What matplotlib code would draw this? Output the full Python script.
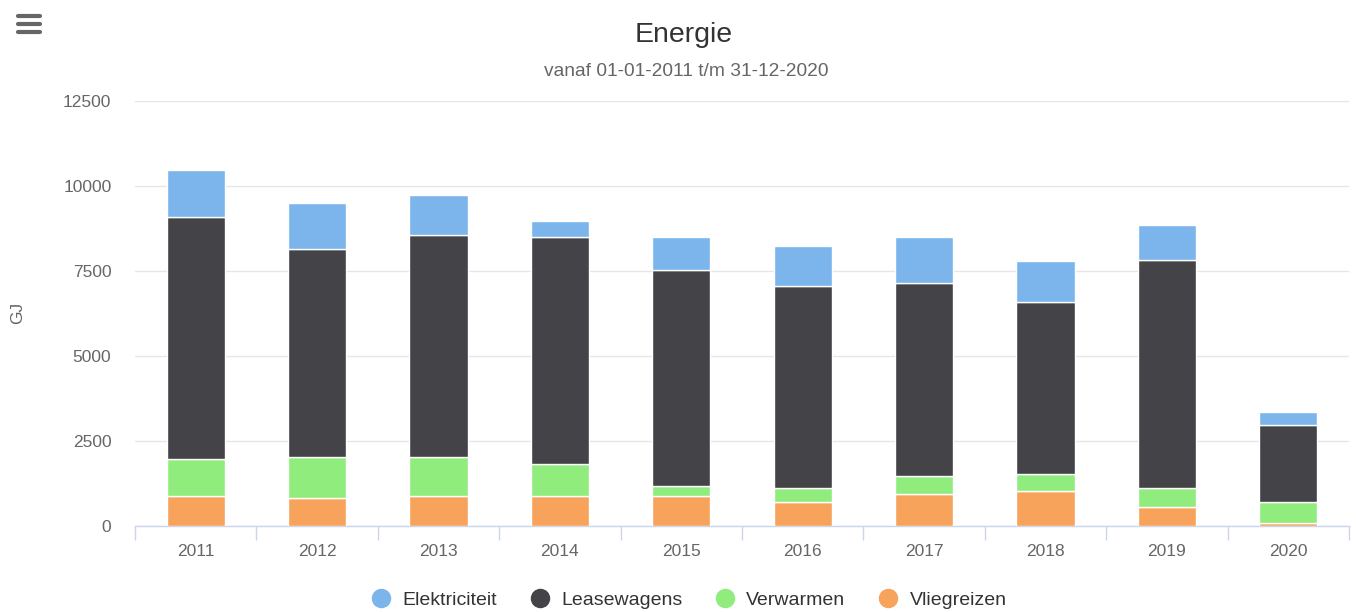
import numpy as np
import matplotlib.pyplot as plt
from matplotlib.lines import Line2D

plt.rcParams['font.family'] = ['Liberation Sans', 'DejaVu Sans']

jaren = ['2011', '2012', '2013', '2014', '2015', '2016', '2017', '2018', '2019', '2020']
vliegreizen = [880, 800, 880, 880, 880, 700, 937, 1025, 554, 74]
verwarmen = [1080, 1210, 1130, 940, 290, 410, 510, 480, 560, 625]
leasewagens = [7117, 6134, 6546, 6684, 6351, 5939, 5702, 5074, 6696, 2274]
elektriciteit = [1402, 1355, 1178, 471, 981, 1169, 1354, 1217, 1031, 368]

series = [
    ('Vliegreizen', vliegreizen, '#f7a35c'),
    ('Verwarmen', verwarmen, '#90ed7d'),
    ('Leasewagens', leasewagens, '#434348'),
    ('Elektriciteit', elektriciteit, '#7cb5ec'),
]

fig = plt.figure(figsize=(13.56, 6.12), dpi=100)
ax = fig.add_axes([135 / 1356, 1 - 525.5 / 612, (1349 - 135) / 1356, (525.5 - 101) / 612])

x = np.arange(len(jaren))
bottom = np.zeros(len(jaren))
for naam, waarden, kleur in series:
    ax.bar(x, waarden, width=0.48, bottom=bottom, color=kleur,
           edgecolor='white', linewidth=1, zorder=3)
    bottom += np.array(waarden)

ax.set_xlim(-0.5, len(jaren) - 0.5)
ax.set_ylim(0, 12500)
ax.set_yticks([0, 2500, 5000, 7500, 10000, 12500])
ax.yaxis.grid(True, color='#e6e6e6', linewidth=1, zorder=0)
ax.set_axisbelow(True)

for s in ['top', 'right', 'left']:
    ax.spines[s].set_visible(False)
ax.spines['bottom'].set_color('#ccd6eb')
ax.spines['bottom'].set_linewidth(1)

ax.set_xticks(x)
ax.set_xticklabels(jaren, fontsize=12.5, color='#666666')
ax.set_xticks(np.arange(-0.5, len(jaren)), minor=True)
ax.tick_params(axis='x', which='major', length=0, pad=13)
ax.tick_params(axis='x', which='minor', length=10, color='#ccd6eb', width=1)
ax.tick_params(axis='y', length=0, labelsize=12.5, labelcolor='#666666', pad=17)

ax.set_ylabel('GJ', fontsize=12.5, color='#666666')
ax.yaxis.set_label_coords((25 - 135) / 1214, 0.5)

fig.text(0.504, 1 - 35 / 612, 'Energie', ha='center', va='center', fontsize=20.5, color='#333333')
fig.text(0.506, 1 - 71 / 612, 'vanaf 01-01-2011 t/m 31-12-2020', ha='center', va='center',
         fontsize=13.8, color='#666666')

# menu-icoon
for yy in [16, 24, 32]:
    fig.add_artist(Line2D([18 / 1356, 40 / 1356], [1 - yy / 612, 1 - yy / 612],
                          color='#666666', linewidth=3, solid_capstyle='round'))

handles = [Line2D([], [], marker='o', linestyle='', markersize=13, color=k)
           for _, _, k in reversed(series)]
labels = [n for n, _, _ in reversed(series)]
fig.legend(handles, labels, loc='center', bbox_to_anchor=(0.508, 1 - 600 / 612), ncol=4,
           frameon=False, fontsize=14, handlelength=1.0, handletextpad=0.6,
           columnspacing=1.7, labelcolor='#333333')

fig.savefig('out.png', dpi=100)
